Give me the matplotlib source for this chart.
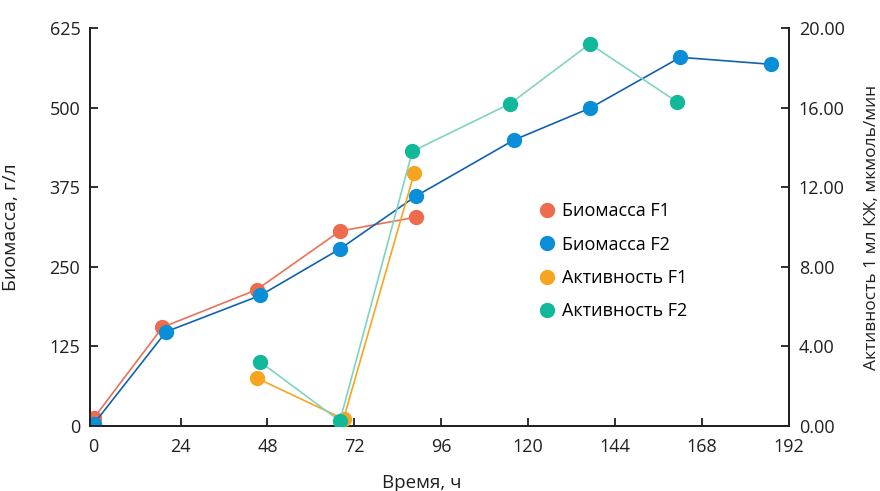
import numpy as np
import matplotlib
matplotlib.use('Agg')
import matplotlib.pyplot as plt
from matplotlib.ticker import FormatStrFormatter
from matplotlib.lines import Line2D

plt.rcParams['font.family'] = ['Open Sans', 'DejaVu Sans']

# биомасса, г/л
t_bio1 = [0, 19, 45, 68, 89]
bio1 = [12, 155, 214, 306, 328]
t_bio2 = [0, 20, 46, 68, 89, 116, 137, 162, 187]
bio2 = [3, 148, 205, 278, 361, 449, 499, 579, 568]

# активность, мкмоль/мин
t_act1 = [45, 69, 88.5]
act1 = [2.41, 0.35, 12.7]
t_act2 = [46, 68, 88, 115, 137, 161]
act2 = [3.22, 0.25, 13.8, 16.2, 19.2, 16.3]

x_ticks = [0, 24, 48, 72, 96, 120, 144, 168, 192]
y1_ticks = [0, 125, 250, 375, 500, 625]
y2_ticks = [0, 4, 8, 12, 16, 20]

labels = ['Биомасса F1', 'Биомасса F2', 'Активность F1', 'Активность F2']
mcol = ['#EE6C4D', '#0A8ED8', '#F7A521', '#12B89A']
lcol = ['#EC7059', '#1062AE', '#F7A521', '#80D3C2']

fig = plt.figure(figsize=(8.8, 4.91), dpi=100)
ax = fig.add_axes([90/880, 1-426/491, (789-90)/880, (426-28)/491])
ax2 = ax.twinx()

ms = 10
ax.plot(t_bio1, bio1, '-', color=lcol[0], lw=1.2, zorder=2)
ax.plot(t_bio1, bio1, 'o', color=mcol[0], ms=ms, zorder=3)
ax.plot(t_bio2, bio2, '-', color=lcol[1], lw=1.2, zorder=4)
ax.plot(t_bio2, bio2, 'o', color=mcol[1], ms=ms, zorder=5)
ax2.plot(t_act1, act1, '-', color=lcol[2], lw=1.2, zorder=2)
ax2.plot(t_act1, act1, 'o', color=mcol[2], ms=ms, zorder=3)
ax2.plot(t_act2, act2, '-', color=lcol[3], lw=1.2, zorder=4)
ax2.plot(t_act2, act2, 'o', color=mcol[3], ms=ms, zorder=5)

ax.set_xlim(-1, 192)
ax.set_ylim(0, 625)
ax2.set_ylim(0, 20)
ax.set_xticks(x_ticks)
ax.set_yticks(y1_ticks)
ax2.set_yticks(y2_ticks)
ax2.yaxis.set_major_formatter(FormatStrFormatter('%.2f'))

for a in (ax, ax2):
    a.spines['top'].set_visible(False)
    for s in a.spines.values():
        s.set_linewidth(1.3)
        s.set_color('#231F20')
    a.tick_params(direction='in', length=6, width=1.3, colors='#231F20',
                  labelsize=13, pad=7)
ax.tick_params(axis='x', pad=9)

ax.set_xlabel('Время, ч', fontsize=13.5, color='#231F20')
ax.xaxis.set_label_coords(0.474, -0.12)
ax.set_ylabel('Биомасса, г/л', fontsize=14, color='#231F20')
ax.yaxis.set_label_coords(-0.1, 0.5)
ax2.set_ylabel('Активность 1 мл КЖ, мкмоль/мин', fontsize=12.5, color='#231F20')
ax2.yaxis.set_label_coords(1.108, 0.5)

handles = [Line2D([], [], ls='none', marker='o', color=c, ms=ms) for c in mcol]
ax.legend(handles, labels, loc='upper left', bbox_to_anchor=(0.63, 0.58),
          frameon=False, fontsize=13, handletextpad=0.35, labelspacing=0.85,
          handlelength=1.0, borderaxespad=0)

fig.savefig('out.png', dpi=100)
